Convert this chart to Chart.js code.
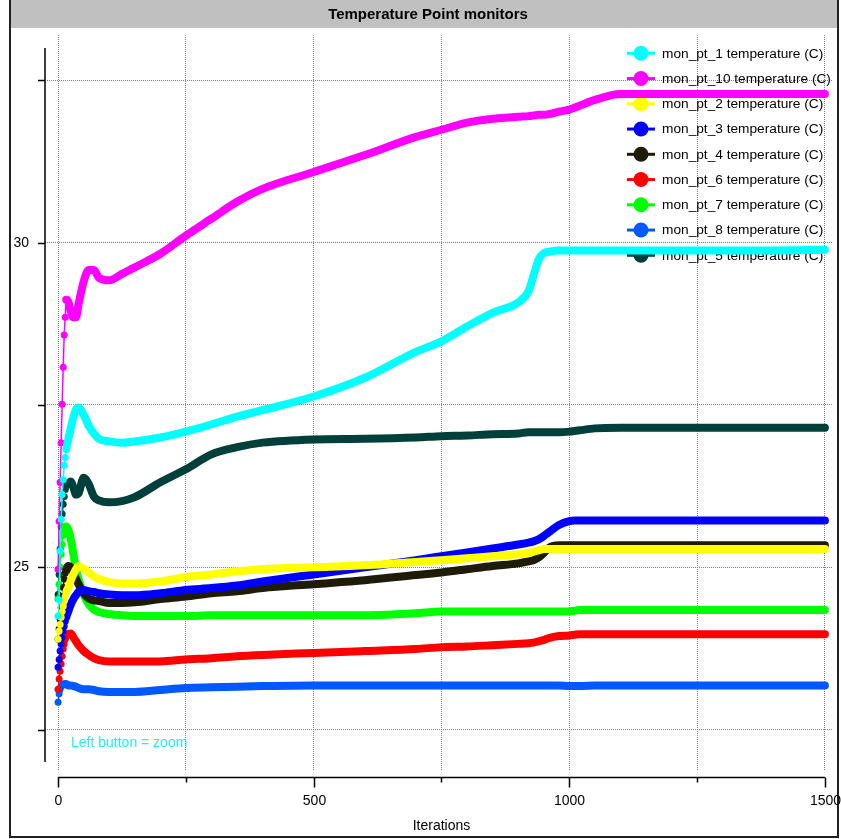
<!DOCTYPE html>
<html>
<head>
<meta charset="utf-8">
<script src="https://cdn.jsdelivr.net/npm/chart.js@4/dist/chart.umd.min.js"></script>
<style>
  html, body { margin: 0; padding: 0; background: #fff; }
  #wrap { width: 841px; height: 839px; }
</style>
</head>
<body>
<div id="wrap"><canvas id="monitorCanvas" width="841" height="839"></canvas></div>
<script>
(function () {
  'use strict';

  const iterations = [0, 2, 4, 6, 8, 10, 12, 14, 16, 20, 25, 30, 35, 40, 50, 60, 70, 80, 100, 125, 150,
    200, 250, 300, 350, 400, 500, 600, 700, 750, 800, 850, 900, 920, 930, 940, 950, 960, 980,
    1000, 1010, 1020, 1050, 1100, 1200, 1300, 1400, 1500];

  const pt1 = [24.25, 24.5, 25.25, 25.74, 26.12, 26.35, 26.57, 26.69, 26.82, 26.97, 27.15, 27.31, 27.43, 27.46, 27.35, 27.18, 27.06, 26.98, 26.94, 26.92, 26.94,
    27.0, 27.09, 27.2, 27.32, 27.42, 27.63, 27.92, 28.32, 28.48, 28.71, 28.92, 29.08, 29.25, 29.49, 29.74, 29.84, 29.86, 29.88,
    29.88, 29.88, 29.88, 29.88, 29.88, 29.88, 29.88, 29.88, 29.89];
  const pt10 = [24.97, 25.71, 26.31, 26.92, 27.51, 28.08, 28.58, 28.85, 29.12, 29.09, 28.94, 28.85, 28.85, 29.05, 29.4, 29.58, 29.58, 29.46, 29.42, 29.52, 29.62,
    29.83, 30.11, 30.37, 30.63, 30.83, 31.09, 31.35, 31.63, 31.74, 31.85, 31.91, 31.94, 31.95, 31.96, 31.97, 31.97, 31.98, 32.02,
    32.05, 32.08, 32.11, 32.2, 32.29, 32.29, 32.29, 32.29, 32.29];
  const pt2 = [23.89, 24.02, 24.12, 24.23, 24.32, 24.4, 24.48, 24.55, 24.62, 24.69, 24.8, 24.89, 24.97, 25.02, 24.98, 24.92, 24.86, 24.82, 24.77, 24.75, 24.75,
    24.78, 24.85, 24.89, 24.94, 24.97, 25.0, 25.03, 25.08, 25.11, 25.14, 25.17, 25.2, 25.22, 25.24, 25.26, 25.28, 25.28, 25.28,
    25.28, 25.28, 25.28, 25.28, 25.28, 25.28, 25.28, 25.28, 25.28];
  const pt3 = [23.46, 23.58, 23.71, 23.82, 23.92, 24.02, 24.09, 24.17, 24.23, 24.32, 24.43, 24.51, 24.57, 24.62, 24.65, 24.63, 24.62, 24.6, 24.58, 24.57, 24.57,
    24.6, 24.65, 24.68, 24.72, 24.78, 24.89, 25.0, 25.11, 25.17, 25.23, 25.29, 25.35, 25.38, 25.4, 25.43, 25.48, 25.54, 25.65,
    25.71, 25.72, 25.72, 25.72, 25.72, 25.72, 25.72, 25.72, 25.72];
  const pt4 = [23.89, 24.05, 24.2, 24.38, 24.55, 24.69, 24.82, 24.91, 24.97, 25.02, 25.0, 24.91, 24.82, 24.74, 24.6, 24.52, 24.49, 24.48, 24.45, 24.45, 24.46,
    24.51, 24.55, 24.6, 24.63, 24.68, 24.74, 24.8, 24.88, 24.92, 24.97, 25.02, 25.06, 25.09, 25.11, 25.15, 25.22, 25.3, 25.34,
    25.34, 25.34, 25.34, 25.34, 25.34, 25.34, 25.34, 25.34, 25.34];
  const pt6 = [23.12, 23.28, 23.4, 23.51, 23.63, 23.74, 23.82, 23.89, 23.94, 23.97, 23.98, 23.92, 23.86, 23.8, 23.71, 23.65, 23.6, 23.57, 23.55, 23.55, 23.55,
    23.55, 23.58, 23.6, 23.63, 23.65, 23.68, 23.71, 23.74, 23.77, 23.78, 23.8, 23.82, 23.83, 23.84, 23.86, 23.88, 23.91, 23.94,
    23.95, 23.96, 23.97, 23.97, 23.97, 23.97, 23.97, 23.97, 23.97];
  const pt7 = [24.51, 24.74, 25.0, 25.2, 25.35, 25.49, 25.58, 25.63, 25.63, 25.58, 25.43, 25.2, 24.97, 24.82, 24.58, 24.43, 24.35, 24.31, 24.28, 24.26, 24.25,
    24.25, 24.25, 24.26, 24.26, 24.26, 24.26, 24.26, 24.29, 24.32, 24.32, 24.32, 24.32, 24.32, 24.32, 24.32, 24.32, 24.32, 24.32,
    24.32, 24.33, 24.34, 24.34, 24.34, 24.34, 24.34, 24.34, 24.34];
  const pt8 = [22.92, 23.05, 23.12, 23.17, 23.18, 23.2, 23.2, 23.2, 23.2, 23.18, 23.18, 23.17, 23.16, 23.14, 23.12, 23.12, 23.11, 23.09, 23.08, 23.08, 23.08,
    23.11, 23.14, 23.15, 23.16, 23.17, 23.18, 23.18, 23.18, 23.18, 23.18, 23.18, 23.18, 23.18, 23.18, 23.18, 23.18, 23.18, 23.18,
    23.17, 23.17, 23.17, 23.18, 23.18, 23.18, 23.18, 23.18, 23.18];
  const pt5 = [24.58, 24.89, 25.28, 25.62, 25.82, 25.97, 26.09, 26.2, 26.26, 26.29, 26.32, 26.23, 26.12, 26.14, 26.38, 26.28, 26.09, 26.03, 26.0, 26.02, 26.08,
    26.31, 26.51, 26.74, 26.85, 26.92, 26.97, 26.98, 27.0, 27.02, 27.03, 27.05, 27.06, 27.08, 27.08, 27.08, 27.08, 27.08, 27.08,
    27.09, 27.1, 27.11, 27.14, 27.15, 27.15, 27.15, 27.15, 27.15];

  const seriesLabels = ['mon_pt_1 temperature (C)', 'mon_pt_10 temperature (C)', 'mon_pt_2 temperature (C)',
    'mon_pt_3 temperature (C)', 'mon_pt_4 temperature (C)', 'mon_pt_6 temperature (C)',
    'mon_pt_7 temperature (C)', 'mon_pt_8 temperature (C)', 'mon_pt_5 temperature (C)'];
  const seriesValues = [pt1, pt10, pt2, pt3, pt4, pt6, pt7, pt8, pt5];
  const seriesColors = ['#00FFFF', '#FF00FF', '#FFFF00', '#0000FF', '#1E1B08', '#FF0000', '#00FF00', '#0058FF', '#00403A'];

  const xGridTicks = [0, 250, 500, 750, 1000, 1250, 1500];
  const yGridTicks = [22.5, 25, 27.5, 30, 32.5];
  const xLabelTicks = [0, 500, 1000, 1500];
  const yLabelTicks = [25, 30];

  const FONT = '"Liberation Sans", Arial, sans-serif';
  const NARROW = '"Liberation Sans Narrow", "Liberation Sans", Arial, sans-serif';

  // window frame + grey title bar
  const framePlugin = {
    id: 'frame',
    beforeDraw(chart) {
      const c = chart.ctx;
      c.save();
      c.fillStyle = '#fff';
      c.fillRect(0, 0, chart.width, chart.height);
      c.fillStyle = '#C0C0C0';
      c.fillRect(10, 0, 828, 28);
      c.fillStyle = '#000';
      c.font = 'bold 15px ' + FONT;
      c.textAlign = 'center';
      c.textBaseline = 'middle';
      c.fillText('Temperature Point monitors', 428, 15);
      c.strokeStyle = '#202020';
      c.lineWidth = 2;
      c.beginPath();
      c.moveTo(10, 0); c.lineTo(10, 837); c.lineTo(838, 837); c.lineTo(838, 0);
      c.stroke();
      c.restore();
    }
  };

  // legend list in top right corner, drawn under the curves
  const legendPlugin = {
    id: 'monLegend',
    beforeDatasetsDraw(chart) {
      const c = chart.ctx;
      c.save();
      c.font = '13.7px ' + FONT;
      c.textBaseline = 'middle';
      c.textAlign = 'left';
      chart.data.datasets.forEach((ds, i) => {
        const y = 53.3 + i * 25.25;
        c.strokeStyle = ds.borderColor;
        c.lineWidth = 3;
        c.beginPath(); c.moveTo(627, y); c.lineTo(655, y); c.stroke();
        c.fillStyle = ds.borderColor;
        c.beginPath(); c.arc(641, y, 7.5, 0, Math.PI * 2); c.fill();
        c.fillStyle = '#000';
        c.fillText(ds.label, 662, y + 0.5);
      });
      c.restore();
    }
  };

  // detached axes, tick marks and labels
  const axesPlugin = {
    id: 'monAxes',
    afterDraw(chart) {
      const c = chart.ctx;
      const xs = chart.scales.x, ys = chart.scales.y;
      const area = chart.chartArea;
      c.save();
      c.strokeStyle = '#000';
      c.fillStyle = '#000';
      c.lineWidth = 1.5;

      // y axis
      const ax = area.left;
      c.beginPath();
      c.moveTo(ax, ys.getPixelForValue(33)); c.lineTo(ax, ys.getPixelForValue(22));
      c.stroke();
      c.font = '14px ' + NARROW;
      c.textAlign = 'right';
      c.textBaseline = 'middle';
      ys.ticks.forEach(t => {
        const py = Math.round(ys.getPixelForValue(t.value)) + 0.5;
        c.beginPath(); c.moveTo(ax - 7, py); c.lineTo(ax, py); c.stroke();
        if (yLabelTicks.includes(t.value)) c.fillText(String(t.value), 29, py);
      });

      // x axis
      const ay = area.bottom + 7.5;
      c.beginPath();
      c.moveTo(xs.getPixelForValue(0), ay); c.lineTo(xs.getPixelForValue(1500), ay);
      c.stroke();
      c.textAlign = 'center';
      xs.ticks.forEach(t => {
        const px = Math.round(xs.getPixelForValue(t.value)) + 0.5;
        const major = xLabelTicks.includes(t.value);
        c.beginPath(); c.moveTo(px, ay); c.lineTo(px, ay + (major ? 10 : 5)); c.stroke();
        if (major) c.fillText(String(t.value), px, 801);
      });
      c.fillText('Iterations', (xs.getPixelForValue(0) + xs.getPixelForValue(1500)) / 2, 826);

      c.font = '14px ' + FONT;
      c.textAlign = 'left';
      c.fillStyle = '#22F0F0';
      c.fillText('Left button = zoom', 71, 743);
      c.restore();
    }
  };

  const datasets = seriesValues.map((vals, i) => ({
    label: seriesLabels[i],
    data: iterations.map((it, k) => ({ x: it, y: vals[k] })),
    borderColor: seriesColors[i],
    backgroundColor: seriesColors[i],
    borderWidth: 8,
    borderCapStyle: 'round',
    borderJoinStyle: 'round',
    cubicInterpolationMode: 'monotone',
    pointRadius: ctx => (ctx.raw && ctx.raw.x <= 14 ? 3.5 : 0),
    pointBackgroundColor: seriesColors[i],
    pointBorderWidth: 0,
    pointHoverRadius: 0,
    segment: {
      borderWidth: ctx => (ctx.p0.parsed.x < 16 ? 1.5 : 8)
    }
  }));

  new Chart(document.getElementById('monitorCanvas'), {
    type: 'line',
    data: { datasets },
    plugins: [framePlugin, legendPlugin, axesPlugin],
    options: {
      responsive: false,
      animation: false,
      events: [],
      layout: { padding: { left: 45, right: 9, top: 35, bottom: 69 } },
      plugins: {
        legend: { display: false },
        title: { display: false },
        tooltip: { enabled: false }
      },
      scales: {
        x: {
          type: 'linear',
          min: -25.6,
          max: 1513.9,
          afterBuildTicks: scale => { scale.ticks = xGridTicks.map(v => ({ value: v })); },
          ticks: { display: false },
          grid: { color: '#808080', lineWidth: 1, drawTicks: false },
          border: { display: false, dash: [1, 1] }
        },
        y: {
          type: 'linear',
          min: 21.877,
          max: 33.2,
          afterBuildTicks: scale => { scale.ticks = yGridTicks.map(v => ({ value: v })); },
          ticks: { display: false },
          grid: { color: '#808080', lineWidth: 1, drawTicks: false },
          border: { display: false, dash: [1, 1] }
        }
      }
    }
  });
})();
</script>
</body>
</html>
